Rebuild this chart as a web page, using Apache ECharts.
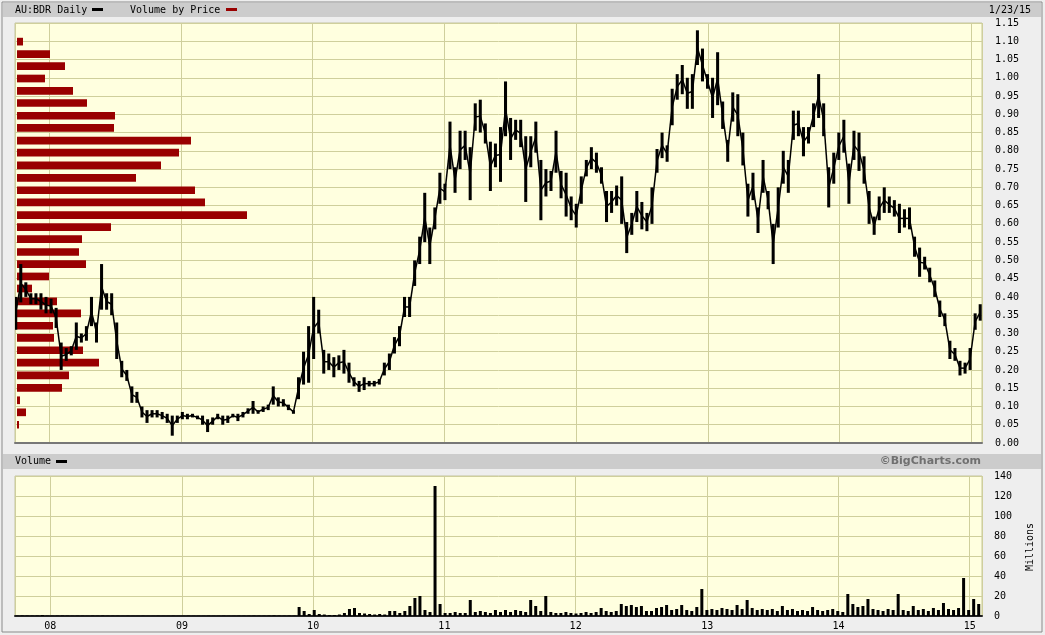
<!DOCTYPE html>
<html>
<head>
<meta charset="utf-8">
<title>AU:BDR Daily</title>
<script src="https://cdn.jsdelivr.net/npm/echarts@6/dist/echarts.min.js"></script>
<style>
  html, body { margin: 0; padding: 0; background: #eeeeee; }
  #chart { width: 1045px; height: 635px; }
</style>
</head>
<body>
<div id="chart"></div>
<script>
// ---- data (one sample every two weeks from 1 Oct 2007)
const DAY = 86400000;
const firstSample = new Date(2007, 9, 1).getTime();
const sampleStep = 14 * DAY;

const priceLow = [
    0.31, 0.385, 0.40, 0.38, 0.38, 0.365, 0.355, 0.355, 0.315, 0.20,
    0.225, 0.24, 0.255, 0.275, 0.28, 0.32, 0.275, 0.365, 0.365, 0.35,
    0.23, 0.18, 0.17, 0.11, 0.11, 0.07, 0.055, 0.07, 0.07, 0.065,
    0.055, 0.02, 0.055, 0.065, 0.065, 0.07, 0.065, 0.05, 0.03, 0.05,
    0.065, 0.05, 0.055, 0.07, 0.06, 0.07, 0.08, 0.08, 0.08, 0.085,
    0.09, 0.105, 0.10, 0.10, 0.09, 0.08, 0.12, 0.16, 0.165, 0.23,
    0.30, 0.19, 0.20, 0.18, 0.20, 0.19, 0.165, 0.155, 0.14, 0.145,
    0.155, 0.155, 0.16, 0.185, 0.20, 0.245, 0.265, 0.345, 0.345, 0.43,
    0.49, 0.55, 0.49, 0.585, 0.655, 0.665, 0.75, 0.685, 0.75, 0.775,
    0.665, 0.855, 0.85, 0.82, 0.69, 0.755, 0.715, 0.84, 0.775, 0.83,
    0.81, 0.66, 0.755, 0.795, 0.61, 0.675, 0.69, 0.74, 0.67, 0.62,
    0.61, 0.59, 0.655, 0.73, 0.75, 0.74, 0.71, 0.605, 0.63, 0.65,
    0.60, 0.52, 0.57, 0.605, 0.585, 0.58, 0.60, 0.74, 0.78, 0.77,
    0.87, 0.94, 0.955, 0.915, 0.915, 1.035, 0.99, 0.97, 0.89, 0.925,
    0.86, 0.77, 0.88, 0.84, 0.76, 0.62, 0.665, 0.575, 0.685, 0.64,
    0.49, 0.59, 0.71, 0.685, 0.83, 0.84, 0.785, 0.82, 0.865, 0.89,
    0.84, 0.645, 0.71, 0.775, 0.795, 0.655, 0.775, 0.745, 0.71, 0.60,
    0.57, 0.61, 0.63, 0.63, 0.62, 0.575, 0.59, 0.585, 0.51, 0.455,
    0.475, 0.44, 0.40, 0.345, 0.32, 0.23, 0.225, 0.185, 0.19, 0.20,
    0.31, 0.335
];

const priceHigh = [
    0.40, 0.49, 0.44, 0.41, 0.41, 0.41, 0.40, 0.395, 0.37, 0.275,
    0.26, 0.265, 0.33, 0.30, 0.32, 0.40, 0.33, 0.49, 0.41, 0.41,
    0.33, 0.225, 0.20, 0.155, 0.14, 0.10, 0.09, 0.09, 0.09, 0.085,
    0.08, 0.075, 0.075, 0.085, 0.08, 0.08, 0.075, 0.075, 0.065, 0.07,
    0.08, 0.075, 0.075, 0.08, 0.08, 0.085, 0.095, 0.115, 0.09, 0.10,
    0.105, 0.155, 0.125, 0.12, 0.105, 0.09, 0.18, 0.25, 0.32, 0.40,
    0.365, 0.255, 0.245, 0.235, 0.24, 0.255, 0.22, 0.18, 0.17, 0.18,
    0.17, 0.17, 0.175, 0.22, 0.245, 0.29, 0.32, 0.40, 0.40, 0.50,
    0.565, 0.685, 0.59, 0.645, 0.74, 0.71, 0.88, 0.755, 0.855, 0.855,
    0.81, 0.93, 0.94, 0.875, 0.825, 0.82, 0.865, 0.99, 0.89, 0.885,
    0.885, 0.84, 0.84, 0.88, 0.775, 0.75, 0.745, 0.855, 0.745, 0.74,
    0.675, 0.655, 0.73, 0.775, 0.81, 0.795, 0.755, 0.69, 0.69, 0.705,
    0.73, 0.605, 0.63, 0.69, 0.66, 0.63, 0.70, 0.805, 0.85, 0.815,
    0.97, 1.01, 1.035, 1.00, 1.01, 1.13, 1.08, 1.01, 1.00, 1.07,
    0.935, 0.83, 0.96, 0.955, 0.85, 0.71, 0.74, 0.645, 0.775, 0.69,
    0.60, 0.70, 0.80, 0.775, 0.91, 0.91, 0.865, 0.865, 0.93, 1.01,
    0.93, 0.755, 0.795, 0.85, 0.885, 0.765, 0.855, 0.85, 0.785, 0.69,
    0.62, 0.675, 0.70, 0.675, 0.665, 0.655, 0.64, 0.645, 0.565, 0.535,
    0.51, 0.48, 0.445, 0.39, 0.355, 0.28, 0.26, 0.225, 0.22, 0.26,
    0.355, 0.38
];

// volume, millions
const volumeM = [
    0.3, 0.5, 0.4, 0.3, 0.4, 1.0, 0.3, 0.2, 0.3, 0.4,
    0.3, 0.2, 0.3, 0.3, 0.2, 0.4, 0.3, 0.5, 0.3, 0.3,
    0.3, 0.2, 0.3, 0.2, 0.2, 0.3, 0.2, 0.2, 0.3, 0.2,
    0.2, 0.3, 0.2, 0.2, 0.3, 0.2, 0.2, 0.2, 0.3, 0.2,
    0.2, 0.3, 0.2, 0.2, 0.3, 0.3, 0.3, 0.4, 0.3, 0.3,
    0.4, 0.6, 0.4, 0.3, 0.4, 0.3, 9, 5, 2, 6,
    2, 1.5, 1, 1, 1.5, 3, 7, 8, 3, 2.5,
    2, 1.5, 2, 1.5, 5, 5, 3, 5, 10, 18,
    20, 6, 4, 130, 12, 3, 3, 4, 3, 3,
    16, 4, 5, 4, 3, 6, 4, 6, 4, 6,
    5, 4, 16, 10, 5, 20, 4, 3, 3, 4,
    3, 2.5, 3, 4, 3, 4, 8, 5, 4, 5,
    12, 10, 11, 9, 10, 5, 5, 8, 9, 11,
    6, 7, 11, 6, 5, 9, 27, 6, 7, 6,
    8, 7, 6, 11, 7, 16, 8, 6, 7, 6,
    7, 5, 10, 6, 7, 5, 6, 5, 9, 6,
    5, 6, 7, 5, 4, 22, 12, 9, 10, 17,
    7, 6, 5, 7, 6, 22, 6, 5, 10, 6,
    7, 5, 8, 6, 13, 7, 6, 8, 38, 6,
    17, 12
];

// volume by price: bin centre price and relative volume
const vbpPrice = [
    1.099, 1.065, 1.032, 0.998, 0.964, 0.931, 0.896, 0.863, 0.828, 0.795,
    0.760, 0.726, 0.692, 0.659, 0.624, 0.591, 0.558, 0.523, 0.490, 0.456,
    0.423, 0.388, 0.355, 0.321, 0.288, 0.254, 0.220, 0.185, 0.151, 0.117,
    0.084, 0.050
];
const vbpVolume = [
    6, 33, 48, 28, 56, 70, 98, 97, 174, 162,
    144, 119, 178, 188, 230, 94, 65, 62, 69, 32,
    15, 40, 64, 36, 37, 66, 82, 52, 45, 3,
    9, 2
];

const sampleDates = priceLow.map((v, i) => firstSample + i * sampleStep);
const axisMin = new Date(2007, 8, 29).getTime();
const axisMax = new Date(2015, 0, 31).getTime();
const vbpStep = vbpPrice[0] - vbpPrice[1];

const monoFont = 'DejaVu Sans Mono';
const gridColor = '#cfcf9c';
const plotBg = '#ffffdf';

// high-low bar for a sample, joined to the next sample with a thin stroke
function renderPriceBar(params, api) {
    const i = params.dataIndex;
    const top = api.coord([api.value(0), api.value(2)]);
    const bottom = api.coord([api.value(0), api.value(1)]);
    const w = api.size([sampleStep, 0])[0] * 0.6;
    const children = [{
        type: 'rect',
        shape: { x: top[0] - w / 2, y: top[1], width: w, height: Math.max(bottom[1] - top[1], 1) },
        style: { fill: '#000' }
    }];
    if (i + 1 < sampleDates.length) {
        const a = api.coord([sampleDates[i], (priceLow[i] + priceHigh[i]) / 2]);
        const b = api.coord([sampleDates[i + 1], (priceLow[i + 1] + priceHigh[i + 1]) / 2]);
        children.push({
            type: 'line',
            shape: { x1: a[0], y1: a[1], x2: b[0], y2: b[1] },
            style: { stroke: '#000', lineWidth: 1.5 }
        });
    }
    return { type: 'group', children: children };
}

function renderVbpBar(params, api) {
    const start = api.coord([0, api.value(1)]);
    const end = api.coord([api.value(0), api.value(1)]);
    const h = api.size([0, vbpStep])[1] * 0.62;
    return {
        type: 'rect',
        shape: { x: start[0], y: start[1] - h / 2, width: end[0] - start[0], height: h },
        style: { fill: '#990000' }
    };
}

function yearLabel(v) {
    return String(new Date(v).getFullYear()).slice(2);
}

const chart = echarts.init(document.getElementById('chart'));

option = {
    backgroundColor: '#eeeeee',
    animation: false,
    grid: [
        { left: 15, top: 23, width: 967, height: 420, show: true, backgroundColor: plotBg, borderColor: '#c4c4a0', borderWidth: 1 },
        { left: 15, top: 476, width: 967, height: 140, show: true, backgroundColor: plotBg, borderColor: '#c4c4a0', borderWidth: 1 },
        { left: 17, top: 23, width: 965, height: 420 }
    ],
    xAxis: [
        {
            type: 'time', gridIndex: 0, min: axisMin, max: axisMax,
            minInterval: 365 * DAY, maxInterval: 366 * DAY,
            axisLine: { show: true, lineStyle: { color: '#777', width: 2 } },
            axisTick: { show: false },
            axisLabel: { show: false },
            splitLine: { show: true, lineStyle: { color: gridColor, width: 1 } }
        },
        {
            type: 'time', gridIndex: 1, min: axisMin, max: axisMax,
            minInterval: 365 * DAY, maxInterval: 366 * DAY,
            axisLine: { show: true, lineStyle: { color: '#222', width: 2 } },
            axisTick: { show: false },
            axisLabel: { show: true, formatter: yearLabel, fontFamily: monoFont, fontSize: 10, color: '#000', margin: 5 },
            splitLine: { show: true, lineStyle: { color: gridColor, width: 1 } }
        },
        { type: 'value', gridIndex: 2, min: 0, max: 965, show: false }
    ],
    yAxis: [
        {
            type: 'value', gridIndex: 0, position: 'right', min: 0, max: 1.15, interval: 0.05,
            axisLine: { show: false }, axisTick: { show: false },
            axisLabel: { formatter: v => v.toFixed(2), fontFamily: monoFont, fontSize: 10, color: '#000', align: 'left', margin: 13 },
            splitLine: { show: true, lineStyle: { color: gridColor, width: 1 } }
        },
        {
            type: 'value', gridIndex: 1, position: 'right', min: 0, max: 140, interval: 20,
            axisLine: { show: false }, axisTick: { show: false },
            axisLabel: { fontFamily: monoFont, fontSize: 10, color: '#000', align: 'left', margin: 12 },
            splitLine: { show: true, lineStyle: { color: gridColor, width: 1 } }
        },
        { type: 'value', gridIndex: 2, min: 0, max: 1.15, show: false }
    ],
    series: [
        {
            name: 'Volume by Price',
            type: 'custom',
            xAxisIndex: 2, yAxisIndex: 2,
            renderItem: renderVbpBar,
            encode: { x: 0, y: 1 },
            data: vbpVolume.map((v, i) => [v, vbpPrice[i]]),
            z: 2
        },
        {
            name: 'AU:BDR Daily',
            type: 'custom',
            xAxisIndex: 0, yAxisIndex: 0,
            renderItem: renderPriceBar,
            encode: { x: 0, y: [1, 2] },
            clip: true,
            data: sampleDates.map((d, i) => [d, priceLow[i], priceHigh[i]]),
            z: 3
        },
        {
            name: 'Volume',
            type: 'bar',
            xAxisIndex: 1, yAxisIndex: 1,
            barWidth: 3,
            itemStyle: { color: '#000' },
            data: sampleDates.map((d, i) => [d, volumeM[i]]),
            z: 3
        }
    ],
    graphic: [
        { type: 'rect', shape: { x: 2, y: 2, width: 1040, height: 630 }, style: { fill: null, stroke: '#8a8a8a', lineWidth: 1 }, z: 0 },
        { type: 'rect', shape: { x: 3, y: 3, width: 1038, height: 14 }, style: { fill: '#cccccc' } },
        { type: 'text', x: 15, y: 10, style: { text: 'AU:BDR Daily', font: '10px "DejaVu Sans Mono"', fill: '#000', textVerticalAlign: 'middle' } },
        { type: 'rect', shape: { x: 92, y: 8, width: 11, height: 3 }, style: { fill: '#000' } },
        { type: 'text', x: 130, y: 10, style: { text: 'Volume by Price', font: '10px "DejaVu Sans Mono"', fill: '#000', textVerticalAlign: 'middle' } },
        { type: 'rect', shape: { x: 226, y: 8, width: 11, height: 3 }, style: { fill: '#990000' } },
        { type: 'text', x: 1031, y: 10, style: { text: '1/23/15', font: '10px "DejaVu Sans Mono"', fill: '#000', textAlign: 'right', textVerticalAlign: 'middle' } },
        { type: 'rect', shape: { x: 3, y: 454, width: 1038, height: 15 }, style: { fill: '#cccccc' } },
        { type: 'text', x: 15, y: 461, style: { text: 'Volume', font: '10px "DejaVu Sans Mono"', fill: '#000', textVerticalAlign: 'middle' } },
        { type: 'rect', shape: { x: 56, y: 460, width: 11, height: 3 }, style: { fill: '#000' } },
        { type: 'text', x: 981, y: 461, style: { text: '©BigCharts.com', font: 'bold 11px "DejaVu Sans"', fill: '#707070', textAlign: 'right', textVerticalAlign: 'middle' } },
        { type: 'text', x: 1030, y: 547, rotation: Math.PI / 2, style: { text: 'Millions', font: '10px "DejaVu Sans Mono"', fill: '#000', textAlign: 'center', textVerticalAlign: 'middle' } }
    ]
};

chart.setOption(option);
</script>
</body>
</html>
